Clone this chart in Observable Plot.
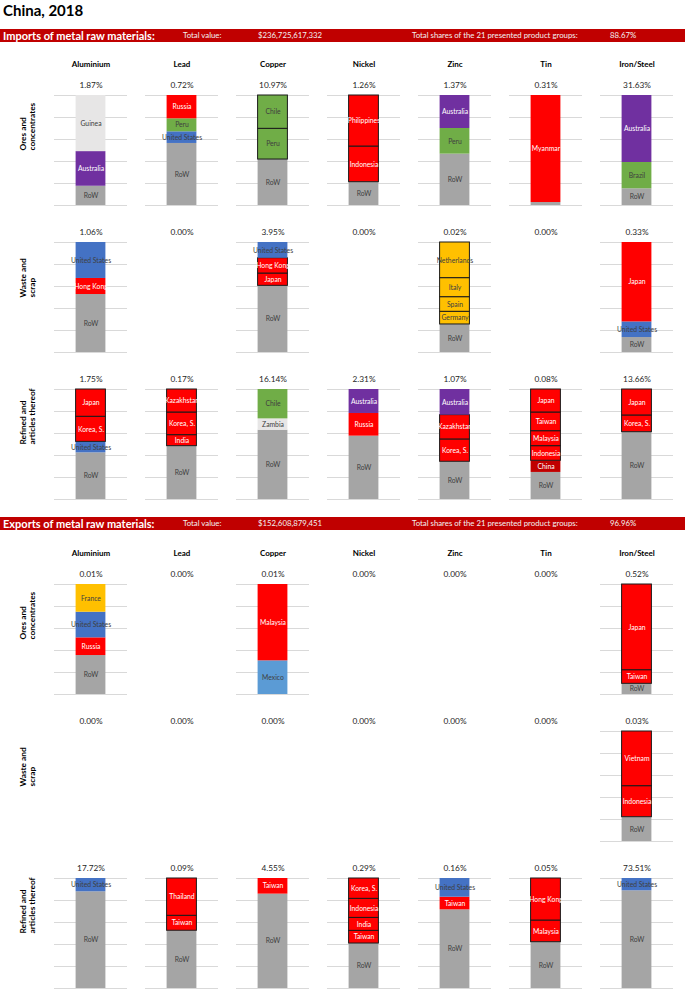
<!DOCTYPE html>
<html>
<head>
<meta charset="utf-8">
<script src="https://cdn.jsdelivr.net/npm/d3@7"></script>
<script src="https://cdn.jsdelivr.net/npm/@observablehq/plot@0.6"></script>
<style>
  html, body { margin: 0; padding: 0; background: #ffffff; }
  #page { position: relative; width: 685px; height: 989px; overflow: hidden; font-family: Lato, "Liberation Sans", sans-serif; }
  .title { position: absolute; left: 3px; top: 1px; font-size: 15px; font-weight: bold; color: #000; }
  .band { position: absolute; left: 0; width: 685px; height: 13px; background: #c00000; color: #ffffff; }
  .band span { position: absolute; top: 0; line-height: 13px; white-space: nowrap; }
  .band .head { left: 3px; font-size: 11px; font-weight: bold; }
  .band .lab { font-size: 7.8px; color: #f2f2f2; }
  .plotbox { position: absolute; left: 0; width: 685px; }
  svg { overflow: visible; }
</style>
</head>
<body>
<div id="page">
  <div class="title">China, 2018</div>
  <div class="band" id="bandImp" style="top:29px"></div>
  <div class="plotbox" id="imp" style="top:42px"></div>
  <div class="band" id="bandExp" style="top:517px"></div>
  <div class="plotbox" id="exp" style="top:529px"></div>
</div>
<script>
// ---------- DATA ----------
const metals = ["Aluminium", "Lead", "Copper", "Nickel", "Zinc", "Tin", "Iron/Steel"];
const groups = ["Ores and concentrates", "Waste and scrap", "Refined and articles thereof"];
const groupLabels = ["Ores and\nconcentrates", "Waste and\nscrap", "Refined and\narticles thereof"];
const gridValues = [0, 20, 40, 60, 80, 100];

const importHeader = ["Imports of metal raw materials:", "Total value:", "$236,725,617,332", "Total shares of the 21 presented product groups:", "88.67%"];
const exportHeader = ["Exports of metal raw materials:", "Total value:", "$152,608,879,451", "Total shares of the 21 presented product groups:", "96.96%"];

// share of each product group in total (per metal), rows = groups
const importShares = [
  [1.87, 0.72, 10.97, 1.26, 1.37, 0.31, 31.63],
  [1.06, 0.00, 3.95, 0.00, 0.02, 0.00, 0.33],
  [1.75, 0.17, 16.14, 2.31, 1.07, 0.08, 13.66]
];
const exportShares = [
  [0.01, 0.00, 0.01, 0.00, 0.00, 0.00, 0.52],
  [0.00, 0.00, 0.00, 0.00, 0.00, 0.00, 0.03],
  [17.72, 0.09, 4.55, 0.29, 0.16, 0.05, 73.51]
];

// partner shares (%), listed bottom to top
const importOres = [
  ["Aluminium", "RoW", 17.5], ["Aluminium", "Australia", 31.5], ["Aluminium", "Guinea", 51.0],
  ["Lead", "RoW", 56.4], ["Lead", "United States", 10.6], ["Lead", "Peru", 11.8], ["Lead", "Russia", 21.2],
  ["Copper", "RoW", 41.8], ["Copper", "Peru", 27.9], ["Copper", "Chile", 30.3],
  ["Nickel", "RoW", 21.2], ["Nickel", "Indonesia", 32.4], ["Nickel", "Philippines", 46.4],
  ["Zinc", "RoW", 46.7], ["Zinc", "Peru", 23.3], ["Zinc", "Australia", 30.0],
  ["Tin", "RoW", 2.7], ["Tin", "Myanmar", 97.3],
  ["Iron/Steel", "RoW", 15.2], ["Iron/Steel", "Brazil", 23.9], ["Iron/Steel", "Australia", 60.9]
];
const importWaste = [
  ["Aluminium", "RoW", 52.7], ["Aluminium", "Hong Kong", 14.6], ["Aluminium", "United States", 32.7],
  ["Copper", "RoW", 60.6], ["Copper", "Japan", 11.2], ["Copper", "Hong Kong", 13.9], ["Copper", "United States", 14.3],
  ["Zinc", "RoW", 25.5], ["Zinc", "Germany", 11.5], ["Zinc", "Spain", 13.3], ["Zinc", "Italy", 17.3], ["Zinc", "Netherlands", 32.4],
  ["Iron/Steel", "RoW", 13.6], ["Iron/Steel", "United States", 14.2], ["Iron/Steel", "Japan", 72.2]
];
const importRefined = [
  ["Aluminium", "RoW", 42.4], ["Aluminium", "United States", 10.0], ["Aluminium", "Korea, S.", 22.8], ["Aluminium", "Japan", 24.8],
  ["Lead", "RoW", 48.5], ["Lead", "India", 10.0], ["Lead", "Korea, S.", 20.6], ["Lead", "Kazakhstan", 20.9],
  ["Copper", "RoW", 63.0], ["Copper", "Zambia", 10.3], ["Copper", "Chile", 26.7],
  ["Nickel", "RoW", 57.6], ["Nickel", "Russia", 20.6], ["Nickel", "Australia", 21.8],
  ["Zinc", "RoW", 34.3], ["Zinc", "Korea, S.", 20.3], ["Zinc", "Kazakhstan", 22.1], ["Zinc", "Australia", 23.3],
  ["Tin", "RoW", 24.6], ["Tin", "China", 10.6], ["Tin", "Indonesia", 13.3], ["Tin", "Malaysia", 13.6], ["Tin", "Taiwan", 17.0], ["Tin", "Japan", 20.9],
  ["Iron/Steel", "RoW", 61.2], ["Iron/Steel", "Korea, S.", 15.2], ["Iron/Steel", "Japan", 23.6]
];
const exportOres = [
  ["Aluminium", "RoW", 35.4], ["Aluminium", "Russia", 16.1], ["Aluminium", "United States", 23.3], ["Aluminium", "France", 25.2],
  ["Copper", "Mexico", 30.6], ["Copper", "Malaysia", 69.4],
  ["Iron/Steel", "RoW", 9.7], ["Iron/Steel", "Taiwan", 12.4], ["Iron/Steel", "Japan", 77.9]
];
const exportWaste = [
  ["Iron/Steel", "RoW", 22.1], ["Iron/Steel", "Indonesia", 28.2], ["Iron/Steel", "Vietnam", 49.7]
];
const exportRefined = [
  ["Aluminium", "RoW", 87.9], ["Aluminium", "United States", 12.1],
  ["Lead", "RoW", 52.5], ["Lead", "Taiwan", 13.6], ["Lead", "Thailand", 33.9],
  ["Copper", "RoW", 85.8], ["Copper", "Taiwan", 14.2],
  ["Nickel", "RoW", 40.9], ["Nickel", "Taiwan", 11.5], ["Nickel", "India", 11.8], ["Nickel", "Indonesia", 17.3], ["Nickel", "Korea, S.", 18.5],
  ["Zinc", "RoW", 71.5], ["Zinc", "Taiwan", 11.5], ["Zinc", "United States", 17.0],
  ["Tin", "RoW", 42.1], ["Tin", "Malaysia", 19.7], ["Tin", "Hong Kong", 38.2],
  ["Iron/Steel", "RoW", 88.8], ["Iron/Steel", "United States", 11.2]
];

// partner region
const regionOf = {
  "RoW": "RoW", "Australia": "Oceania", "Guinea": "Africa", "Zambia": "Africa",
  "Peru": "South America", "Chile": "South America", "Brazil": "South America",
  "United States": "North America", "Mexico": "Latin America",
  "Russia": "Asia", "Philippines": "Asia", "Indonesia": "Asia", "Myanmar": "Asia", "Japan": "Asia",
  "Hong Kong": "Asia", "Korea, S.": "Asia", "Kazakhstan": "Asia", "India": "Asia", "Taiwan": "Asia",
  "Malaysia": "Asia", "Vietnam": "Asia", "Thailand": "Asia", "China": "China",
  "Netherlands": "Europe", "Italy": "Europe", "Spain": "Europe", "Germany": "Europe", "France": "Europe"
};

// ---------- STYLE ----------
const regionColor = {
  "RoW": "#a5a5a5", "Oceania": "#7030a0", "Africa": "#e7e6e6", "South America": "#70ad47",
  "North America": "#4472c4", "Latin America": "#5b9bd5", "Asia": "#ff0000", "China": "#c00000", "Europe": "#ffc000"
};
const lightText = new Set(["Oceania", "Asia", "China"]);

function header(el, parts) {
  const pos = [null, 183, 258, 412, 610];
  parts.forEach((t, i) => {
    const s = document.createElement("span");
    s.textContent = t;
    if (i === 0) s.className = "head";
    else { s.className = "lab"; s.style.left = pos[i] + "px"; }
    el.appendChild(s);
  });
}

function buildPlot(segLists, shares, height, marginTop, marginBottom) {
  const segs = [];
  groups.forEach((g, gi) => segLists[gi].forEach(([metal, country, share]) =>
    segs.push({metal, group: g, country, share, region: regionOf[country]})));
  const key = d => d.metal + "|" + d.group + "|" + d.region;
  const counts = d3.rollup(segs, v => v.length, key);
  segs.forEach(d => d.outlined = d.region !== "RoW" && counts.get(key(d)) > 1 ? 1 : 0);

  const grid = [];
  new Set(segs.map(d => d.metal + "|" + d.group)).forEach(k => {
    const [metal, group] = k.split("|");
    gridValues.forEach(v => grid.push({metal, group, v}));
  });
  const pct = [];
  groups.forEach((g, gi) => metals.forEach((m, mi) => pct.push({metal: m, group: g, share: shares[gi][mi]})));
  const names = metals.map(m => ({metal: m, group: groups[0]}));
  const rowLabs = groups.map((g, i) => ({metal: metals[0], group: g, label: groupLabels[i]}));

  return Plot.plot({
    width: 685, height, marginTop, marginBottom, marginLeft: 53, marginRight: 11,
    fx: {domain: metals, paddingInner: 0.198, paddingOuter: 0, axis: null},
    fy: {domain: groups, paddingInner: 0.254, paddingOuter: 0, axis: null},
    y: {domain: [0, 100], axis: null},
    style: {fontFamily: "Lato, 'Liberation Sans', sans-serif", background: "transparent", overflow: "visible"},
    marks: [
      Plot.ruleY(grid, {fx: "metal", fy: "group", y: "v", stroke: "#d9d9d9", strokeWidth: 1}),
      Plot.barY(segs, Plot.stackY({
        fx: "metal", fy: "group", y: "share",
        fill: d => regionColor[d.region],
        stroke: "#1a1a1a", strokeWidth: 1, strokeOpacity: "outlined",
        insetLeft: 21.6, insetRight: 21.6
      })),
      Plot.text(segs, Plot.stackY({
        fx: "metal", fy: "group", y: "share",
        text: d => d.share >= 5 ? d.country : "",
        fill: d => lightText.has(d.region) ? "#ffffff" : "#404040",
        fontSize: 6.8
      })),
      Plot.text(pct, {fx: "metal", fy: "group", frameAnchor: "top", dy: -13,
        text: d => d.share.toFixed(2) + "%", fontSize: 8.3, fill: "#262626"}),
      Plot.text(names, {fx: "metal", fy: "group", frameAnchor: "top", dy: -34,
        text: "metal", fontSize: 8, fontWeight: "bold", fill: "#000"}),
      Plot.text(rowLabs, {fx: "metal", fy: "group", frameAnchor: "left", dx: -27,
        text: "label", rotate: -90, fontSize: 8.3, fontWeight: "bold", lineHeight: 1.1, fill: "#000"})
    ]
  });
}

header(document.getElementById("bandImp"), importHeader);
header(document.getElementById("bandExp"), exportHeader);
document.getElementById("imp").appendChild(
  buildPlot([importOres, importWaste, importRefined], importShares, 475, 52, 18));
document.getElementById("exp").appendChild(
  buildPlot([exportOres, exportWaste, exportRefined], exportShares, 460, 54, 1));
</script>
</body>
</html>
